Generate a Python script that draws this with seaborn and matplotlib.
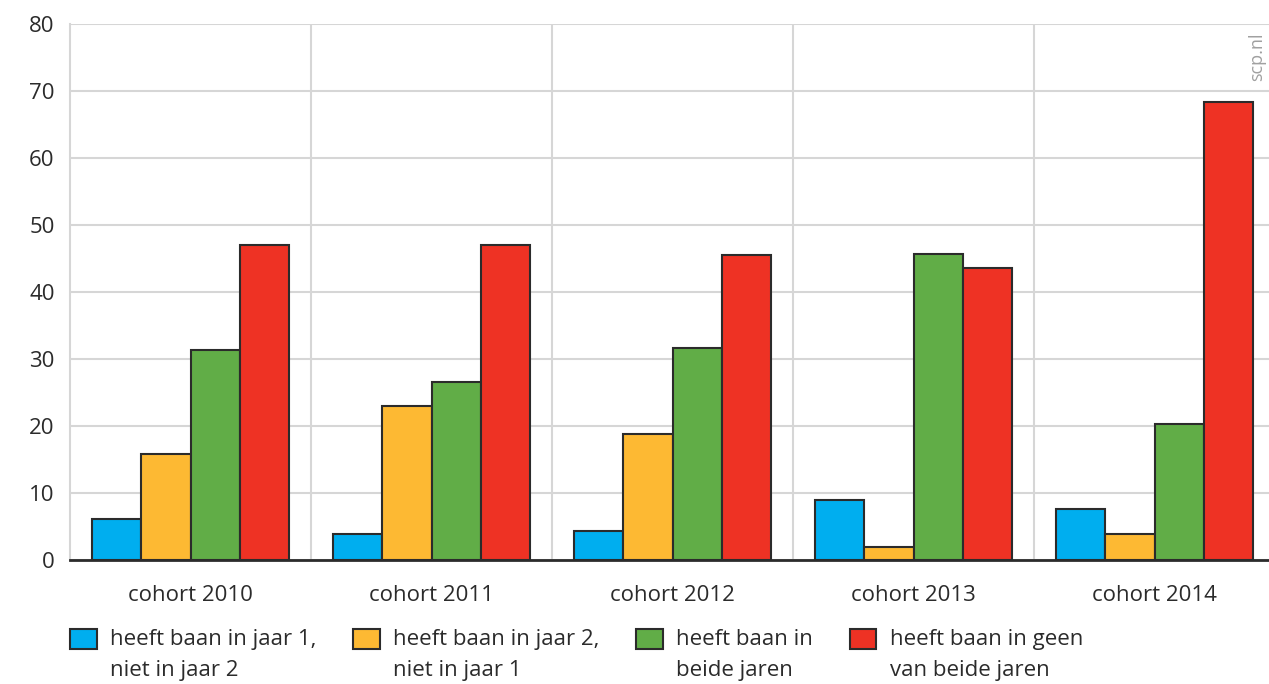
import matplotlib
matplotlib.use("Agg")
import matplotlib.pyplot as plt
import seaborn as sns
import pandas as pd

# values (percentages)
cohorts = ["cohort 2010", "cohort 2011", "cohort 2012", "cohort 2013", "cohort 2014"]
series_labels = [
    "heeft baan in jaar 1,\nniet in jaar 2",
    "heeft baan in jaar 2,\nniet in jaar 1",
    "heeft baan in\nbeide jaren",
    "heeft baan in geen\nvan beide jaren",
]
baan_jaar1 = [6.1, 3.9, 4.3, 9.0, 7.6]
baan_jaar2 = [15.8, 23.0, 18.8, 1.9, 3.9]
baan_beide = [31.3, 26.6, 31.6, 45.7, 20.3]
baan_geen = [47.0, 47.0, 45.5, 43.6, 68.4]
colors = ["#00AEEF", "#FDB933", "#61AD47", "#EE3224"]

rows = []
for label, vals in zip(series_labels, [baan_jaar1, baan_jaar2, baan_beide, baan_geen]):
    for c, v in zip(cohorts, vals):
        rows.append({"cohort": c, "groep": label, "pct": v})
df = pd.DataFrame(rows)

sns.set_style("white")
plt.rcParams["font.family"] = ["Open Sans", "DejaVu Sans"]
plt.rcParams["font.size"] = 16

fig = plt.figure(figsize=(12.69, 6.84), dpi=100)
ax = fig.add_axes([70 / 1269, 1 - 560 / 684, 1205 / 1269, 536 / 684])

sns.barplot(data=df, x="cohort", y="pct", hue="groep", order=cohorts,
            hue_order=series_labels, palette=colors, width=0.82,
            edgecolor="#2b2b2b", linewidth=1.5, saturation=1, ax=ax, zorder=3)

ax.set_ylim(0, 80)
ax.set_xlim(-0.5, 4.5)
ax.set_yticks(range(0, 81, 10))
ax.set_xticks(range(len(cohorts)))
ax.set_xticklabels(cohorts)
ax.set_xticks([0.5, 1.5, 2.5, 3.5], minor=True)
ax.set_xlabel("")
ax.set_ylabel("")

ax.grid(axis="y", color="#d6d6d6", linewidth=1.5, zorder=0)
ax.grid(axis="x", which="minor", color="#d6d6d6", linewidth=1.5, zorder=0)
ax.grid(axis="x", which="major", visible=False)
ax.set_axisbelow(True)

for s in ["top", "right"]:
    ax.spines[s].set_visible(False)
ax.spines["left"].set_color("#d6d6d6")
ax.spines["left"].set_linewidth(1.5)
ax.spines["bottom"].set_color("#2b2b2b")
ax.spines["bottom"].set_linewidth(2)

ax.tick_params(axis="y", length=0, pad=11, labelsize=16, colors="#2b2b2b")
ax.tick_params(axis="x", which="major", length=10, width=1.5, color="#2b2b2b",
               pad=8, labelsize=16, labelcolor="#2b2b2b")
ax.tick_params(axis="x", which="minor", length=0)

ax.text(0.9855, 0.985, "scp.nl", transform=ax.transAxes, rotation=90,
        ha="center", va="top", color="#a0a0a0", fontsize=13)

handles, labels = ax.get_legend_handles_labels()
ax.get_legend().remove()
leg = fig.legend(handles, labels, loc="upper left",
                 bbox_to_anchor=(70 / 1269, 1 - 629 / 684), ncol=4,
                 frameon=False, fontsize=16, handlelength=1.2, handleheight=1.0,
                 handletextpad=0.6, columnspacing=1.65, borderpad=0,
                 borderaxespad=0, labelspacing=0)
for t in leg.get_texts():
    t.set_color("#2b2b2b")
    t.set_linespacing(1.6)
# align the legend swatch with the first line of each label
for col in leg._legend_handle_box.get_children():
    for item in col.get_children():
        item.align = "top"

fig.savefig("out.png", dpi=100)
